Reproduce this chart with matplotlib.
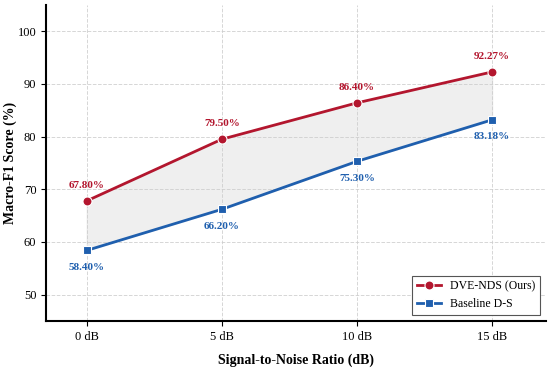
import numpy as np
import matplotlib.pyplot as plt

plt.rcParams['font.family'] = ['Liberation Serif', 'DejaVu Serif']

snr_labels = ["0 dB", "5 dB", "10 dB", "15 dB"]
dve_nds = [67.80, 79.50, 86.40, 92.27]
baseline = [58.40, 66.20, 75.30, 83.18]

red = "#b3162e"
blue = "#1f5fae"

fig = plt.figure(figsize=(5.5, 3.72), dpi=100)
ax = fig.add_axes([0.084, 0.137, 0.909, 0.85])
x = np.arange(len(snr_labels))

ax.fill_between(x, baseline, dve_nds, color="#d9d9d9", alpha=0.4, zorder=1)
ax.plot(x, dve_nds, color=red, lw=2, marker="o", ms=6.5, mec="white", mew=0.8,
        label="DVE-NDS (Ours)", zorder=3)
ax.plot(x, baseline, color=blue, lw=2, marker="s", ms=6, mec="white", mew=0.8,
        label="Baseline D-S", zorder=3)

for xi, v in zip(x, dve_nds):
    ax.annotate(f"{v:.2f}%", (xi, v), xytext=(0, 8), textcoords="offset points",
                ha="center", va="bottom", color=red, fontsize=8, fontweight="bold")
for xi, v in zip(x, baseline):
    ax.annotate(f"{v:.2f}%", (xi, v), xytext=(0, -9), textcoords="offset points",
                ha="center", va="top", color=blue, fontsize=8, fontweight="bold")

ax.set_xlim(-0.3, 3.4)
ax.set_ylim(45, 105)
ax.set_xticks(x)
ax.set_xticklabels(snr_labels)
ax.set_yticks([50, 60, 70, 80, 90, 100])
ax.tick_params(labelsize=9)
ax.grid(True, ls="--", color="#cccccc", lw=0.7, alpha=0.8)
ax.spines["top"].set_visible(False)
ax.spines["right"].set_visible(False)
ax.spines["left"].set_linewidth(1.5)
ax.spines["bottom"].set_linewidth(1.5)

ax.set_xlabel("Signal-to-Noise Ratio (dB)", fontsize=10, fontweight="bold", labelpad=8)
ax.set_ylabel("Macro-F1 Score (%)", fontsize=10, fontweight="bold")
ax.yaxis.set_label_coords(-0.058, 0.5)

leg = ax.legend(loc="lower right", fontsize=8.5, fancybox=False, edgecolor="#555555",
                framealpha=1)
leg.get_frame().set_linewidth(0.8)

fig.savefig("out.png", dpi=100)
